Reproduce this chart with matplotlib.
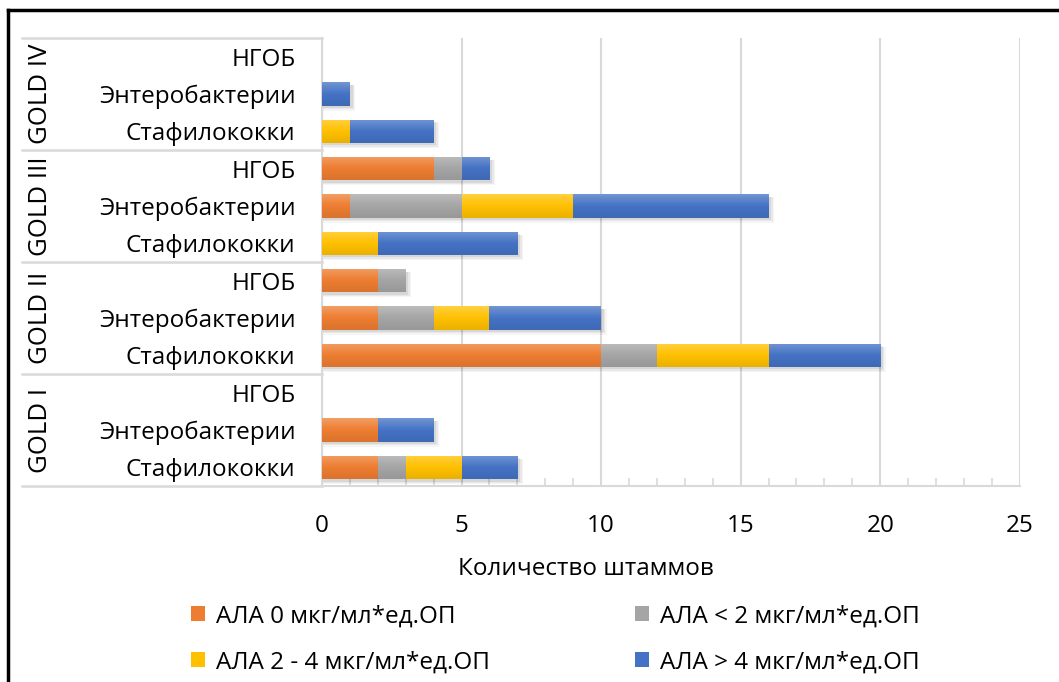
"""Stacked bars: ALA activity of strains by GOLD stage"""

import numpy as np
import matplotlib.pyplot as plt
import matplotlib.colors as mcolors
from matplotlib.lines import Line2D
from matplotlib.patches import Patch

plt.rcParams['font.family'] = ['Open Sans', 'DejaVu Sans']

stages = ["GOLD I", "GOLD II", "GOLD III", "GOLD IV"]
microbes = ["Стафилококки", "Энтеробактерии", "НГОБ"]

# values per row, bottom to top (GOLD I Стафилококки first)
ala_zero = [2, 2, 0, 10, 2, 2, 0, 1, 4, 0, 0, 0]
ala_low = [1, 0, 0, 2, 2, 1, 0, 4, 1, 0, 0, 0]
ala_mid = [2, 0, 0, 4, 2, 0, 2, 4, 0, 1, 0, 0]
ala_high = [2, 2, 0, 4, 4, 0, 5, 7, 1, 3, 1, 0]

series_names = ["АЛА 0 мкг/мл*ед.ОП", "АЛА < 2 мкг/мл*ед.ОП",
                "АЛА 2 - 4 мкг/мл*ед.ОП", "АЛА > 4 мкг/мл*ед.ОП"]
colors = ["#ED7D31", "#A5A5A5", "#FFC000", "#4472C4"]
series = [ala_zero, ala_low, ala_mid, ala_high]

FS = 17.5

fig = plt.figure(figsize=(10.59, 6.82), dpi=100)
ax = fig.add_axes([0.304, 0.2874, 0.659, 0.657])

n_rows = len(stages) * len(microbes)
y_pos = np.arange(n_rows)
bar_h = 0.62


def shade(c, f):
    r, g, b = mcolors.to_rgb(c)
    if f > 0:
        return (r + (1 - r) * f, g + (1 - g) * f, b + (1 - b) * f)
    return (r * (1 + f), g * (1 + f), b * (1 + f))


# soft shadow under each full bar
totals = np.sum(series, axis=0)
for i, t in enumerate(totals):
    if t > 0:
        for k, a in enumerate([0.07, 0.05, 0.04]):
            ax.barh(y_pos[i] - 0.07 - 0.02 * k, t + 0.1 + 0.05 * k,
                    height=bar_h + 0.03 * k, left=0, color="black",
                    alpha=a, linewidth=0, zorder=2)

left = np.zeros(n_rows)
for vals, col, name in zip(series, colors, series_names):
    vals = np.array(vals, dtype=float)
    bars = ax.barh(y_pos, vals, height=bar_h, left=left, color=col,
                   linewidth=0, zorder=3, label=name)
    cmap = mcolors.LinearSegmentedColormap.from_list(
        "g", [shade(col, -0.08), col, shade(col, 0.25)])
    grad = np.linspace(0, 1, 64).reshape(-1, 1)
    for rect, v in zip(bars, vals):
        if v <= 0:
            continue
        x0, y0 = rect.get_x(), rect.get_y()
        img = ax.imshow(grad, cmap=cmap, aspect="auto", origin="lower",
                        extent=(x0, x0 + rect.get_width(), y0,
                                y0 + rect.get_height()), zorder=4)
        img.set_clip_path(rect)
    left += vals

ax.set_xlim(0, 25)
ax.set_ylim(-0.5, n_rows - 0.5)
ax.set_xticks(range(0, 26, 5))
ax.set_xticks(range(0, 26), minor=True)
ax.tick_params(axis="x", which="both", direction="in", length=6,
               color="#D9D9D9", width=1.2, labelsize=FS, pad=20,
               labelcolor="black")
ax.tick_params(axis="x", which="major", length=0)
ax.set_yticks(y_pos)
ax.set_yticklabels(microbes * len(stages), fontsize=FS)
ax.tick_params(axis="y", length=0, pad=19)
ax.grid(axis="x", which="major", color="#D9D9D9", linewidth=1.5, zorder=0)
ax.set_axisbelow(True)
for s in ["top", "right"]:
    ax.spines[s].set_visible(False)
for s in ["left", "bottom"]:
    ax.spines[s].set_color("#D9D9D9")
    ax.spines[s].set_linewidth(1.5)
ax.set_xlabel("Количество штаммов", fontsize=FS)
ax.xaxis.set_label_coords(0.378, -0.158)

# group separators and stage labels on the left
trans = ax.get_yaxis_transform()
x_start = (22 - 322) / (1020 - 322)
for g in range(len(stages) + 1):
    yb = g * len(microbes) - 0.5
    ax.add_line(Line2D([x_start, 0], [yb, yb], transform=trans,
                       color="#D9D9D9", linewidth=1.8, clip_on=False))
for g, st in enumerate(stages):
    yc = g * len(microbes) + 1
    ax.text((41 - 322) / (1020 - 322), yc, st, transform=trans,
            rotation=90, ha="center", va="center", fontsize=FS + 1)

# legend filled row by row: two per line
order = [0, 2, 1, 3]
handles = [Patch(facecolor=colors[i], label=series_names[i]) for i in order]
fig.legend(handles=handles, ncol=2, loc="upper left",
           bbox_to_anchor=(0.160, 0.146), frameon=False, fontsize=FS,
           handlelength=0.55, handleheight=0.6, handletextpad=0.45,
           columnspacing=6.0, labelspacing=0.9)

# outer frame (left and top edges)
fig.add_artist(Line2D([8 / 1059, 8 / 1059], [0, 1 - 10 / 682],
                      transform=fig.transFigure, color="black", linewidth=2.5))
fig.add_artist(Line2D([8 / 1059, 1], [1 - 10 / 682, 1 - 10 / 682],
                      transform=fig.transFigure, color="black", linewidth=2.5))

fig.savefig("out.png", dpi=100)
